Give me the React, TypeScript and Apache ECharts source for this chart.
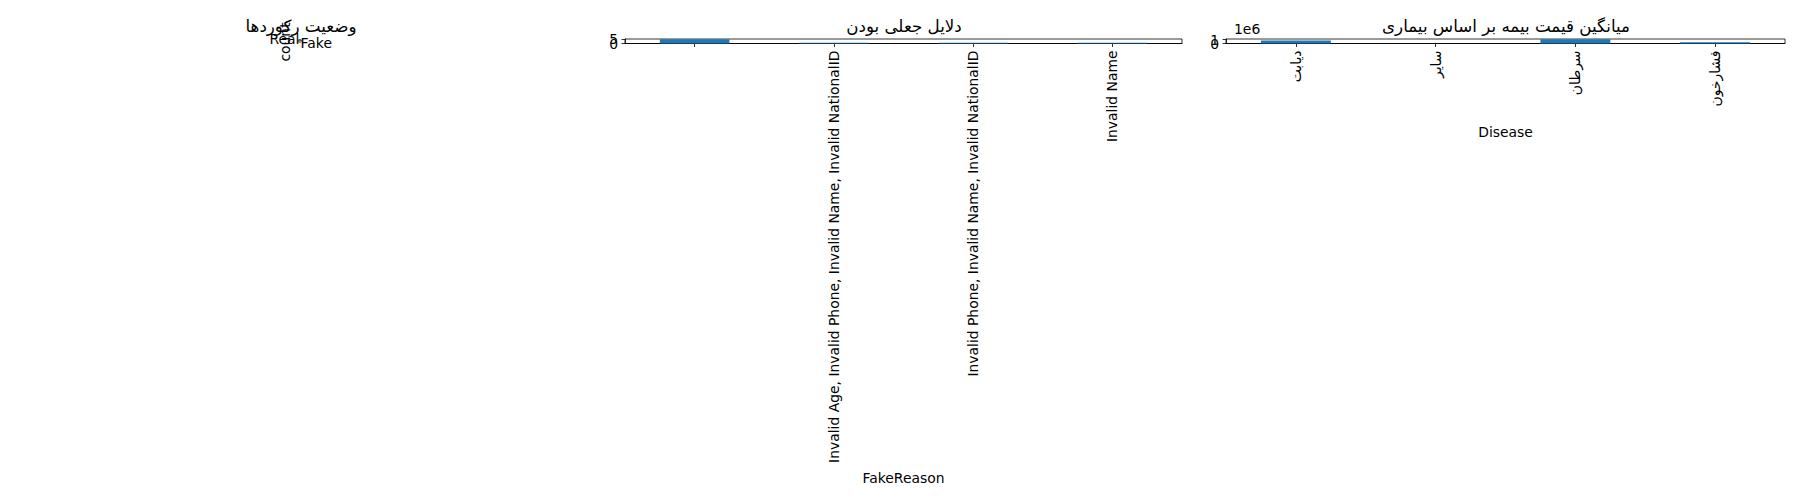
import React, { useEffect, useRef } from "react";
import * as echarts from "echarts";

const FONT = "DejaVu Sans";

// Pie: record status
const statusTitle = "وضعیت رکوردها";
const statusLabels = ["Real", "Fake"];
const statusCounts = [12, 8];
const statusYLabel = "count";

// Bar: fake reasons
const reasonTitle = "دلایل جعلی بودن";
const reasonCategories = [
  "",
  "Invalid Age, Invalid Phone, Invalid Name, Invalid NationalID",
  "Invalid Phone, Invalid Name, Invalid NationalID",
  "Invalid Name",
];
const reasonCounts = [5, 1, 1, 1];
const reasonAxisName = "FakeReason";
const reasonTickStep = 5;

// Bar: average insurance price by disease
const diseaseTitle = "میانگین قیمت بیمه بر اساس بیماری";
const diseaseCategories = ["دیابت", "سایر", "سرطان", "فشارخون"];
const diseasePrices = [800000, 0, 1100000, 350000];
const diseaseAxisName = "Disease";
const diseaseTickStep = 1000000;
const diseaseOffsetLabel = "1e6";

const PIE_COLORS = ["#1f77b4", "#ff7f0e"];
const BAR_COLOR = "#1f77b4";

export default function App() {
  const ref = useRef<HTMLDivElement>(null);

  useEffect(() => {
    if (!ref.current) return;
    const chart = echarts.init(ref.current, undefined, { renderer: "svg" });

    const tick = { show: true, length: 3.5, lineStyle: { color: "#000", width: 0.8 } };
    const line = { show: true, lineStyle: { color: "#000", width: 0.8 } };
    const lbl = { fontFamily: FONT, fontSize: 13.9, color: "#000" };

    const pieData = statusLabels.map((n, i) => ({
      name: n,
      value: statusCounts[i],
      itemStyle: { color: PIE_COLORS[i] },
    }));

    const multipleOf = (v: number, step: number) =>
      Math.abs(v / step - Math.round(v / step)) < 1e-9;

    const reasonMax = Math.max(...reasonCounts) * 1.05;
    const diseaseMax = Math.max(...diseasePrices) * 1.05;

    // main axis draws line, ticks and the "0" label; the overlay axis draws the upper tick label
    const valueAxes = (grid: number, max: number, step: number, scale: number, extra: any) => [
      {
        type: "value", gridIndex: grid, min: 0, max, interval: step,
        axisLine: line, axisTick: tick, splitLine: { show: false },
        axisLabel: {
          ...lbl, margin: 7, showMinLabel: true, showMaxLabel: false,
          formatter: (v: number) => (v === 0 ? "0" : ""),
        },
        ...extra,
      },
      {
        type: "value", gridIndex: grid, min: 0, max, interval: step, position: "left", offset: 0,
        axisLine: { show: false }, axisTick: { show: false }, splitLine: { show: false },
        axisLabel: {
          ...lbl, margin: 7, showMinLabel: false, showMaxLabel: false,
          formatter: (v: number) => (multipleOf(v, step) ? String(v / scale) : ""),
        },
      },
    ];

    const reasonAxes = valueAxes(0, reasonMax, reasonTickStep, 1, {});
    const diseaseAxes = valueAxes(1, diseaseMax, diseaseTickStep, diseaseTickStep, {
      name: diseaseOffsetLabel, nameLocation: "end", nameGap: 3,
      nameTextStyle: { ...lbl, align: "left", verticalAlign: "bottom", padding: [0, 0, 0, 8] },
    });

    const option: any = {
      animation: false,
      backgroundColor: "#fff",
      textStyle: { fontFamily: FONT },
      title: [
        { text: statusTitle, left: 301, top: 17, textAlign: "center", padding: 0,
          textStyle: { fontFamily: FONT, fontSize: 16.7, fontWeight: "normal", color: "#000" } },
        { text: reasonTitle, left: 904, top: 17, textAlign: "center", padding: 0,
          textStyle: { fontFamily: FONT, fontSize: 16.7, fontWeight: "normal", color: "#000" } },
        { text: diseaseTitle, left: 1506, top: 17, textAlign: "center", padding: 0,
          textStyle: { fontFamily: FONT, fontSize: 16.7, fontWeight: "normal", color: "#000" } },
      ],
      grid: [
        { left: 625, top: 39, width: 557, height: 4.5, show: true, borderColor: "#000", borderWidth: 0.8, containLabel: false },
        { left: 1226, top: 39, width: 559, height: 4.5, show: true, borderColor: "#000", borderWidth: 0.8, containLabel: false },
      ],
      xAxis: [
        {
          type: "category", gridIndex: 0, data: reasonCategories,
          axisLine: line, axisTick: { ...tick, alignWithLabel: true },
          axisLabel: { ...lbl, rotate: 90, margin: 7, interval: 0 },
          name: reasonAxisName, nameLocation: "middle", nameGap: 427,
          nameTextStyle: { ...lbl },
        },
        {
          type: "category", gridIndex: 1, data: diseaseCategories,
          axisLine: line, axisTick: { ...tick, alignWithLabel: true },
          axisLabel: { ...lbl, rotate: 90, margin: 7, interval: 0 },
          name: diseaseAxisName, nameLocation: "middle", nameGap: 81,
          nameTextStyle: { ...lbl },
        },
      ],
      yAxis: [reasonAxes[0], diseaseAxes[0], reasonAxes[1], diseaseAxes[1]],
      series: [
        {
          type: "pie", center: [300, 41], radius: 2, startAngle: 0, clockwise: false,
          avoidLabelOverlap: false, silent: true, data: pieData,
          label: { show: true, position: "outside", formatter: "{b}", ...lbl, distanceToLabelLine: 0 },
          labelLine: { show: false, length: 0, length2: 0 },
        },
        {
          type: "pie", center: [300, 41], radius: 2, startAngle: 0, clockwise: false,
          avoidLabelOverlap: false, silent: true, data: pieData,
          label: {
            show: true, position: "center", ...lbl,
            formatter: (p: any) => p.percent.toFixed(1) + "%",
          },
          labelLine: { show: false },
        },
        {
          type: "bar", xAxisIndex: 0, yAxisIndex: 0, data: reasonCounts,
          barWidth: "50%", itemStyle: { color: BAR_COLOR },
        },
        {
          type: "bar", xAxisIndex: 1, yAxisIndex: 1, data: diseasePrices,
          barWidth: "50%", itemStyle: { color: BAR_COLOR },
        },
      ],
      graphic: [
        {
          type: "text", x: 285, y: 42, rotation: Math.PI / 2,
          style: { text: statusYLabel, fontFamily: FONT, fontSize: 13.9, fill: "#000", align: "center", verticalAlign: "middle" },
        },
      ],
    };

    chart.setOption(option);
    return () => chart.dispose();
  }, []);

  return (
    <div
      ref={ref}
      style={{ position: "absolute", left: 0, top: 0, width: 1800, height: 500, background: "#fff" }}
    />
  );
}
